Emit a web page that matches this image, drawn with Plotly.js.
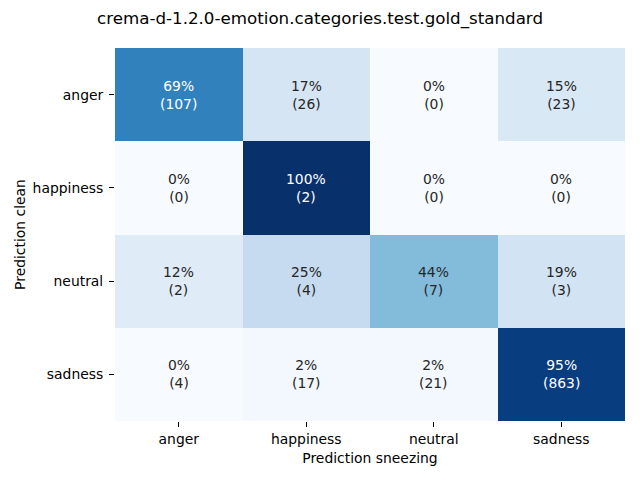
<!DOCTYPE html>
<html>
<head>
<meta charset="utf-8">
<script src="https://cdn.plot.ly/plotly-3.0.1.min.js"></script>
<style>html,body{margin:0;padding:0;background:#fff}#chart{width:640px;height:480px}</style>
</head>
<body>
<div id="chart"></div>
<script>
// Columns: Prediction sneezing; rows: Prediction clean
const categoriesX = ["anger", "happiness", "neutral", "sadness"];
const categoriesY = ["anger", "happiness", "neutral", "sadness"];
// Row-normalised share (percent, as shown)
const pctAnger     = [69, 17, 0, 15];
const pctHappiness = [0, 100, 0, 0];
const pctNeutral   = [12, 25, 44, 19];
const pctSadness   = [0, 2, 2, 95];
// Counts shown in brackets
const cntAnger     = [107, 26, 0, 23];
const cntHappiness = [0, 2, 0, 0];
const cntNeutral   = [2, 4, 7, 3];
const cntSadness   = [4, 17, 21, 863];

const pct = [pctAnger, pctHappiness, pctNeutral, pctSadness];
const cnt = [cntAnger, cntHappiness, cntNeutral, cntSadness];
const z = pct.map(r => r.map(v => v / 100));

const blues = ["#f7fbff","#deebf7","#c6dbef","#9ecae1","#6baed6","#4292c6","#2171b5","#08519c","#08306b"];
const colorscale = blues.map((c, i) => [i / (blues.length - 1), c]);

const annotations = [];
categoriesY.forEach((ry, i) => {
  categoriesX.forEach((cx, j) => {
    annotations.push({
      x: cx, y: ry, xref: "x", yref: "y",
      text: pct[i][j] + "%<br>(" + cnt[i][j] + ")",
      showarrow: false,
      font: {family: "DejaVu Sans", size: 13.9, color: z[i][j] > 0.6 ? "#ffffff" : "#262626"}
    });
  });
});

const trace = {
  type: "heatmap",
  x: categoriesX,
  y: categoriesY,
  z: z,
  zmin: 0, zmax: 1,
  colorscale: colorscale,
  showscale: false,
  hoverinfo: "skip"
};

const layout = {
  width: 640, height: 480,
  margin: {l: 115, r: 15, t: 48, b: 59, pad: 0},
  paper_bgcolor: "#ffffff", plot_bgcolor: "#ffffff",
  font: {family: "DejaVu Sans", size: 13.9, color: "#000000"},
  title: {text: "crema-d-1.2.0-emotion.categories.test.gold_standard",
          font: {family: "DejaVu Sans", size: 16.7, color: "#000000"},
          xref: "container", x: 0.5, xanchor: "center",
          yref: "container", y: 1 - 18/480, yanchor: "middle"},
  xaxis: {
    title: {text: "Prediction sneezing", font: {size: 13.9}, standoff: 7},
    ticks: "outside", ticklen: 5, tickwidth: 1.1, tickcolor: "#000",
    showgrid: false, zeroline: false, showline: false,
    tickfont: {size: 13.9, color: "#000"}
  },
  yaxis: {
    title: {text: "Prediction clean", font: {size: 13.9}, standoff: 3},
    autorange: "reversed",
    ticks: "outside", ticklen: 5, tickwidth: 1.1, tickcolor: "#000",
    ticklabelstandoff: 3,
    showgrid: false, zeroline: false, showline: false,
    tickfont: {size: 13.9, color: "#000"}
  },
  annotations: annotations
};

Plotly.newPlot("chart", [trace], layout, {displayModeBar: false, staticPlot: true});
</script>
</body>
</html>
